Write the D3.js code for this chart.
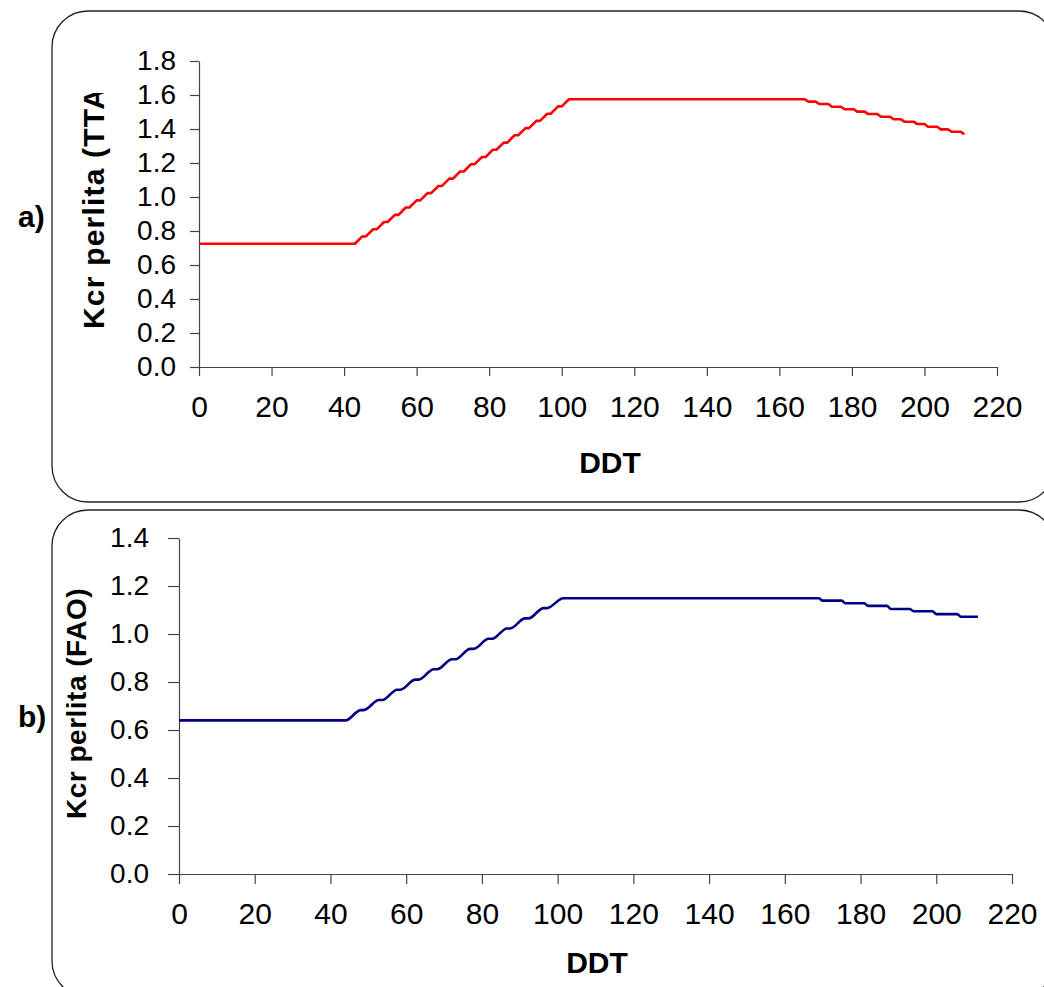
<!DOCTYPE html>
<html>
<head>
<meta charset="utf-8">
<script src="https://cdn.jsdelivr.net/npm/d3@7"></script>
<style>
  body { margin: 0; background: #fff; }
  svg { display: block; font-family: "Liberation Sans", Arial, sans-serif; }
</style>
</head>
<body>
<script>
// Kcr perlita vs DDT, two panels

// a) TTA
var ddtA = [0, 43, 45, 46, 48, 49, 51, 52, 54, 55, 57, 58, 60, 61, 63, 64, 66, 67, 69, 70,
  72, 73, 75, 76, 78, 79, 81, 82, 84, 85, 87, 88, 90, 91, 93, 94, 96, 97, 99, 100, 102,
  167, 168, 170, 171, 173.5, 174.5, 177, 178, 180.5, 181.5, 183.5, 184.5, 187, 188, 190.5,
  191.5, 193.5, 194.5, 197, 198, 200, 201, 203.5, 204.5, 206.5, 207.5, 210, 211];
var kcrA = [0.725, 0.725, 0.768, 0.768, 0.81, 0.81, 0.853, 0.853, 0.895, 0.895, 0.938, 0.938,
  0.98, 0.98, 1.023, 1.023, 1.065, 1.065, 1.108, 1.108, 1.15, 1.15, 1.193, 1.193, 1.235, 1.235,
  1.278, 1.278, 1.32, 1.32, 1.363, 1.363, 1.405, 1.405, 1.448, 1.448, 1.49, 1.49, 1.533, 1.533, 1.575,
  1.575, 1.561, 1.561, 1.547, 1.547, 1.531, 1.531, 1.516, 1.516, 1.502, 1.502, 1.488, 1.488, 1.472,
  1.472, 1.457, 1.457, 1.443, 1.443, 1.429, 1.429, 1.413, 1.413, 1.398, 1.398, 1.384, 1.384, 1.369];

// b) FAO
var ddtB = [0, 44, 48, 48.8, 52.8, 53.7, 57.6, 58.5, 62.4, 63.3, 67.3, 68.2, 72.1, 73, 76.9, 77.8,
  81.8, 82.7, 86.6, 87.5, 91.4, 92.3, 96.3, 97.2, 101.5, 169, 170, 175, 176, 181, 182, 187, 188,
  193, 194, 199, 200, 205.5, 206.5, 211];
var kcrB = [0.64, 0.64, 0.683, 0.683, 0.725, 0.725, 0.768, 0.768, 0.81, 0.81, 0.853, 0.853, 0.895,
  0.895, 0.938, 0.938, 0.98, 0.98, 1.023, 1.023, 1.065, 1.065, 1.108, 1.108, 1.149, 1.149, 1.139,
  1.139, 1.128, 1.128, 1.117, 1.117, 1.104, 1.104, 1.095, 1.095, 1.083, 1.083, 1.072, 1.072];

var xTicks = [0, 20, 40, 60, 80, 100, 120, 140, 160, 180, 200, 220];
var yTicksA = [0, 0.2, 0.4, 0.6, 0.8, 1.0, 1.2, 1.4, 1.6, 1.8];
var yTicksB = [0, 0.2, 0.4, 0.6, 0.8, 1.0, 1.2, 1.4];

var svg = d3.select("body").append("svg").attr("width", 1044).attr("height", 987);

var panels = [
  { id: "a", letter: "a)", title: "Kcr perlita (TTA)", ddt: ddtA, kcr: kcrA, yTicks: yTicksA, yMax: 1.8,
    color: "#ff0000", box: [52, 11, 1003, 491], left: 199, right: 997, top: 61, bottom: 367,
    ytick: 9, ypad: 14, xtick: 9, xpad: 20, titleX: 104, titleY: 329, clipY: 93,
    titleSize: 30, titleSpacing: 1.2,
    letterX: 18, letterY: 227, ddtX: 610, ddtY: 473, curve: d3.curveLinear },
  { id: "b", letter: "b)", title: "Kcr perlita (FAO)", ddt: ddtB, kcr: kcrB, yTicks: yTicksB, yMax: 1.4,
    color: "#000080", box: [52, 510, 1003, 487], left: 179, right: 1012, top: 538, bottom: 874,
    ytick: 11, ypad: 19, xtick: 10, xpad: 19, titleX: 86, titleY: 819, clipY: 560,
    titleSize: 28, titleSpacing: 0.5,
    letterX: 18, letterY: 727, ddtX: 597, ddtY: 973, curve: d3.curveMonotoneX }
];

panels.forEach(function (p) {
  var g = svg.append("g").attr("class", "panel-" + p.id);

  g.append("rect")
    .attr("x", p.box[0]).attr("y", p.box[1])
    .attr("width", p.box[2]).attr("height", p.box[3])
    .attr("rx", 36).attr("ry", 36)
    .attr("fill", "none").attr("stroke", "#222").attr("stroke-width", 1.3);

  var x = d3.scaleLinear().domain([0, 220]).range([p.left, p.right]);
  var y = d3.scaleLinear().domain([0, p.yMax]).range([p.bottom, p.top]);

  var yAxis = g.append("g")
    .attr("transform", "translate(" + p.left + ",0)")
    .call(d3.axisLeft(y).tickValues(p.yTicks).tickFormat(d3.format(".1f"))
      .tickSizeInner(p.ytick).tickSizeOuter(0).tickPadding(p.ypad));

  var xAxis = g.append("g")
    .attr("transform", "translate(0," + p.bottom + ")")
    .call(d3.axisBottom(x).tickValues(xTicks).tickFormat(d3.format("d"))
      .tickSizeInner(p.xtick).tickSizeOuter(0).tickPadding(p.xpad));

  [yAxis, xAxis].forEach(function (ax) {
    ax.selectAll("path, line").attr("stroke", "#444").attr("stroke-width", 1.2);
    ax.selectAll("text").attr("fill", "#000").style("font-size", "28px");
  });
  xAxis.selectAll("text").style("font-size", "30px");

  var line = d3.line()
    .x(function (d, i) { return x(p.ddt[i]); })
    .y(function (d) { return y(d); })
    .curve(p.curve);

  g.append("path")
    .attr("fill", "none")
    .attr("stroke", p.color)
    .attr("stroke-width", 2.6)
    .attr("stroke-linejoin", "round")
    .attr("d", line(p.kcr));

  // axis titles (top one is cut off in the original)
  svg.append("clipPath").attr("id", "clip-" + p.id)
    .append("rect").attr("x", 0).attr("y", p.clipY).attr("width", 180).attr("height", 500);

  g.append("g").attr("clip-path", "url(#clip-" + p.id + ")")
    .append("text")
    .attr("transform", "translate(" + p.titleX + "," + p.titleY + ") rotate(-90)")
    .attr("font-size", p.titleSize).attr("font-weight", "bold")
    .attr("letter-spacing", p.titleSpacing)
    .text(p.title);

  g.append("text")
    .attr("x", p.letterX).attr("y", p.letterY)
    .attr("font-size", 30).attr("font-weight", "bold")
    .text(p.letter);

  g.append("text")
    .attr("x", p.ddtX).attr("y", p.ddtY)
    .attr("text-anchor", "middle")
    .attr("font-size", 30).attr("font-weight", "bold")
    .text("DDT");
});
</script>
</body>
</html>
